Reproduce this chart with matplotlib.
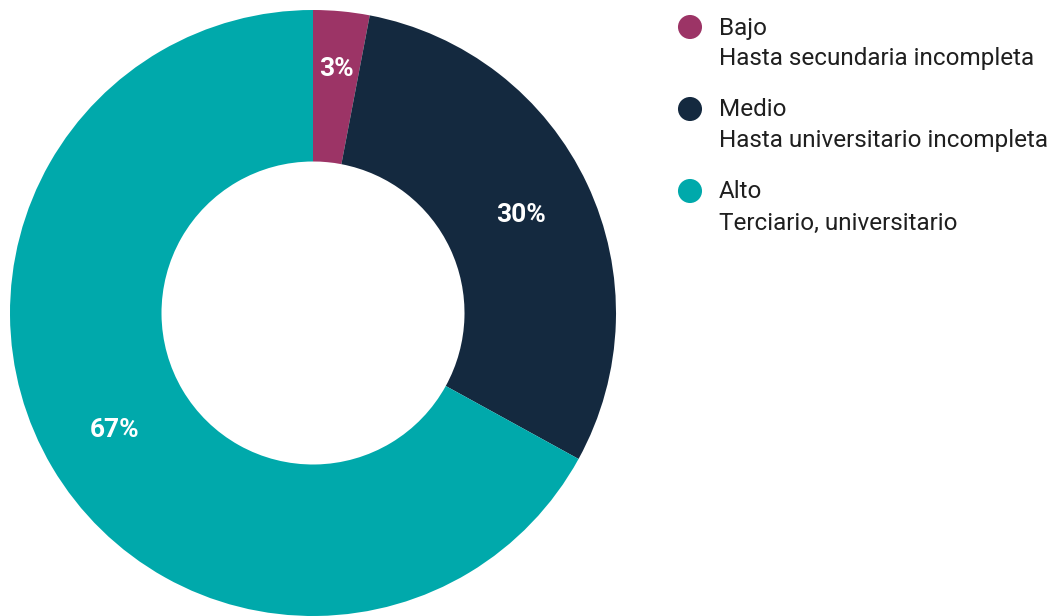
import numpy as np
import matplotlib
matplotlib.use("Agg")
import matplotlib.pyplot as plt

plt.rcParams['font.family'] = ['Roboto', 'DejaVu Sans']

# Nivel educativo
niveles = ["Bajo", "Medio", "Alto"]
descripciones = ["Hasta secundaria incompleta",
                 "Hasta universitario incompleta",
                 "Terciario, universitario"]
porcentajes = [3, 30, 67]
colores = ["#9c3466", "#14293f", "#00a9ab"]

fig = plt.figure(figsize=(10.6, 6.16), dpi=100)

# Donut
ax = fig.add_axes([10 / 1060, 0, 606 / 1060, 606 / 616])
wedges, _ = ax.pie(porcentajes, colors=colores, startangle=90, counterclock=False,
                   radius=1.0, wedgeprops=dict(width=0.5, linewidth=0))
ax.set_xlim(-1, 1)
ax.set_ylim(-1, 1)
ax.set_aspect("equal")
ax.axis("off")

# Percent labels inside each wedge
for w, p in zip(wedges, porcentajes):
    ang = np.deg2rad((w.theta1 + w.theta2) / 2)
    r = 0.81 if p < 5 else 0.76
    ax.text(r * np.cos(ang), r * np.sin(ang), f"{p}%", ha="center", va="center",
            color="white", fontsize=19, fontweight="bold")

# Legend drawn by hand, pixel coordinates
lg = fig.add_axes([0, 0, 1, 1])
lg.set_xlim(0, 1060)
lg.set_ylim(616, 0)
lg.axis("off")
for i, (n, d, c) in enumerate(zip(niveles, descripciones, colores)):
    y = 27 + i * 82
    lg.scatter([690], [y], s=300, color=c, edgecolor="none")
    lg.text(719, y + 1, n, ha="left", va="center", fontsize=17.5, color="#1f1f1f")
    lg.text(719, y + 32, d, ha="left", va="center", fontsize=17.5, color="#1f1f1f")

fig.savefig("out.png", dpi=100, facecolor="white")
